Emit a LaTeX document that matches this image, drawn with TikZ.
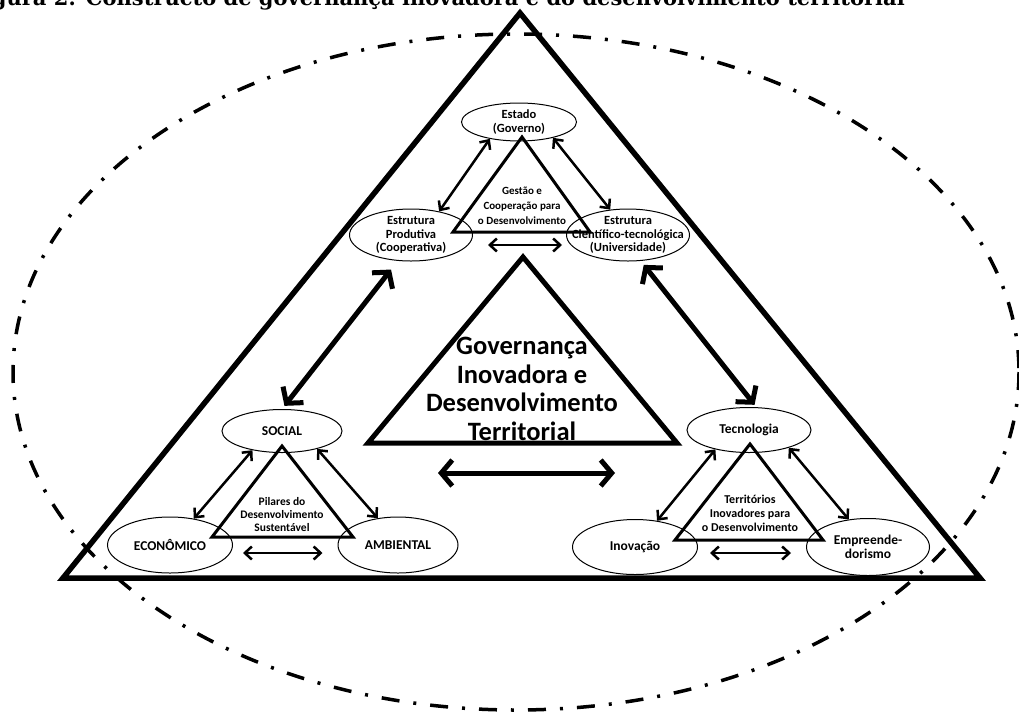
\documentclass[tikz,border=0pt]{standalone}
\usepackage{fontspec}
\setmainfont{Carlito}
\newfontfamily\titulofonte{DejaVu Serif}
\usetikzlibrary{shapes.geometric,arrows.meta}

\begin{document}
\begin{tikzpicture}[x=1pt, y=-1pt,
    elipse/.style={ellipse, draw, line width=1pt, inner xsep=-45pt, inner ysep=-15pt, align=center},
    ator/.style={elipse, minimum width=123pt, minimum height=52pt, font=\bfseries\fontsize{12.5}{13.5}\selectfont},
    pilar/.style={elipse, minimum width=123pt, minimum height=56pt, font=\bfseries\fontsize{13.5}{14}\selectfont},
    rotulo/.style={inner sep=0pt, align=center, font=\bfseries\fontsize{12}{14}\selectfont},
    tri/.style={draw, line width=3pt, line join=miter},
    seta/.style={<->, line width=2.5pt, >={Straight Barb[length=7pt, width=13pt]}},
    setagrossa/.style={<->, line width=5pt, >={Straight Barb[length=11pt, width=26pt]}},
  ]
  \useasboundingbox (0, 0) rectangle (1019, 718);

  % Moldura
  \draw[line width=3.5pt, dash pattern=on 18pt off 14pt on 3pt off 14pt] (516, 372) ellipse [x radius=503, y radius=338];
  \draw[line width=5.5pt, line join=miter] (520, 13) -- (980, 578) -- (63, 578) -- cycle;
  \node[anchor=base east, inner sep=0pt, font=\titulofonte\bfseries\fontsize{21}{24}\selectfont] at (905, 5) (titulo) {Figura 2: Constructo de governança inovadora e do desenvolvimento territorial};

  % Triangulos
  \draw[line width=5pt, line join=miter] (523, 257) -- (677, 443) -- (368, 443) -- cycle;
  \draw[tri] (522, 137) -- (590, 232) -- (453, 232) -- cycle;
  \draw[tri] (282, 446) -- (353, 537) -- (212, 537) -- cycle;
  \draw[tri] (750, 444) -- (823, 540) -- (675, 540) -- cycle;

  % Nodes
  \node[ator, minimum width=115pt, minimum height=38pt] at (519, 122) (estado) {Estado\\(Governo)};
  \node[ator] at (411, 235) (produtiva) {Estrutura\\Produtiva\\(Cooperativa)};
  \node[ator] at (628, 235) (cientifico) {Estrutura\\Científico-tecnológica\\(Universidade)};
  \node[rotulo, font=\bfseries\fontsize{11}{15}\selectfont] at (522, 206) (gestao) {Gestão e\\Cooperação para\\o Desenvolvimento};

  \node[pilar, minimum width=120pt, minimum height=43pt] at (282, 431) (social) {SOCIAL};
  \node[pilar, minimum width=125pt] at (170, 545) (economico) {ECONÔMICO};
  \node[pilar, minimum width=120pt] at (398, 545) (ambiental) {AMBIENTAL};
  \node[rotulo, font=\bfseries\fontsize{11.5}{13}\selectfont] at (282, 514) (pilares) {Pilares do\\Desenvolvimento\\Sustentável};

  \node[pilar, minimum width=124pt, minimum height=45pt] at (749, 430) (tecnologia) {Tecnologia};
  \node[pilar, minimum width=125pt, minimum height=55pt] at (635, 547) (inovacao) {Inovação};
  \node[pilar, minimum height=57pt] at (868, 547) (empreend) {Empreende-\\dorismo};
  \node[rotulo] at (750, 513) (territorios) {Territórios\\Inovadores para\\o Desenvolvimento};

  \node[rotulo, font=\bfseries\fontsize{26.5}{28.5}\selectfont] at (522, 389) (governanca) {Governança\\Inovadora e\\Desenvolvimento\\Territorial};

  \coordinate (ladoE) at (438, 473);
  \coordinate (ladoD) at (615, 473);

  % Setas
  \draw[seta] (estado.210) -- (produtiva.40);
  \draw[seta] (estado.335) -- (cientifico.125);
  \draw[seta, shorten <=15pt, shorten >=4pt] ([yshift=-10pt]produtiva.east) -- ([yshift=-10pt]cientifico.west);

  \draw[seta] (social.213) -- (economico.48);
  \draw[seta] (social.333) -- (ambiental.127);
  \draw[seta, shorten <=10pt, shorten >=15pt] ([yshift=-8pt]economico.east) -- ([yshift=-8pt]ambiental.west);

  \draw[seta] (tecnologia.210) -- (inovacao.50);
  \draw[seta] (tecnologia.336) -- (empreend.125);
  \draw[seta, shorten <=12pt, shorten >=15pt] ([yshift=-6pt]inovacao.east) -- ([yshift=-6pt]empreend.west);

  \draw[setagrossa, shorten <=11pt, shorten >=4pt] (produtiva.243) -- (social.90);
  \draw[setagrossa, shorten <=5pt, shorten >=3pt] (cientifico.296) -- (tecnologia.72);
  \draw[setagrossa] (ladoE) -- (ladoD);
\end{tikzpicture}
\end{document}
